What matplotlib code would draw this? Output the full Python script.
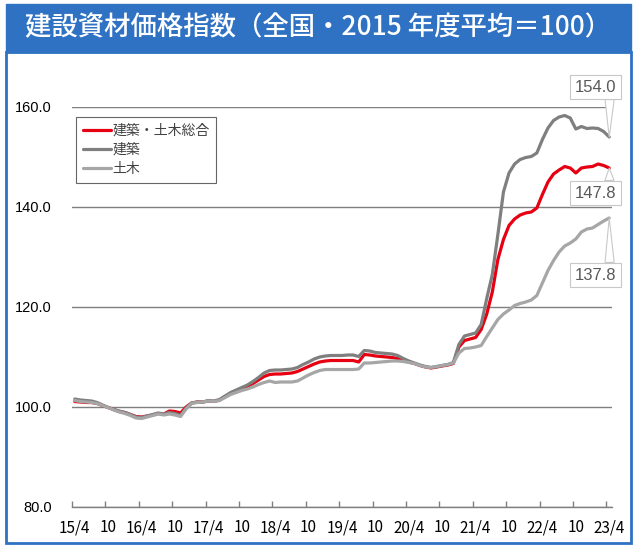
import matplotlib
matplotlib.use("Agg")
import matplotlib.pyplot as plt
from matplotlib.patches import Rectangle
from matplotlib.ticker import FixedLocator

plt.rcParams['font.family'] = ['Noto Sans CJK JP', 'DejaVu Sans']

title = "建設資材価格指数（全国・2015 年度平均＝100）"
series_names = ["建築・土木総合", "建築", "土木"]

sogo = [101.1, 101.0, 100.9, 100.9, 100.7, 100.3, 99.9, 99.5, 99.1, 98.9, 98.5, 98.1,
        98.0, 98.2, 98.4, 98.7, 98.6, 99.2, 99.1, 98.8, 100.0, 100.8, 101.0, 101.0,
        101.2, 101.1, 101.4, 102.1, 102.7, 103.2, 103.7, 104.1, 104.7, 105.4, 106.1, 106.5,
        106.6, 106.6, 106.7, 106.8, 107.1, 107.6, 108.1, 108.6, 109.0, 109.2, 109.3, 109.3,
        109.3, 109.3, 109.3, 109.0, 110.5, 110.4, 110.2, 110.1, 110.0, 109.9, 109.7, 109.4,
        109.0, 108.7, 108.3, 108.0, 107.8, 108.0, 108.2, 108.4, 108.7, 112.0, 113.3, 113.6,
        113.9, 115.5, 118.6, 123.0, 129.5, 133.5, 136.3, 137.6, 138.4, 138.8, 139.0, 139.8,
        142.5, 145.0, 146.6, 147.4, 148.1, 147.8, 146.8, 147.8, 148.0, 148.1, 148.6, 148.3,
        147.8]

kenchiku = [101.6, 101.4, 101.3, 101.2, 100.9, 100.4, 99.9, 99.5, 99.2, 98.9, 98.5, 98.0,
            97.9, 98.2, 98.5, 98.8, 98.6, 98.9, 98.7, 98.3, 99.8, 100.8, 101.0, 101.0,
            101.3, 101.2, 101.5, 102.2, 102.9, 103.4, 103.9, 104.4, 105.1, 105.9, 106.8, 107.3,
            107.4, 107.4, 107.5, 107.6, 107.9, 108.5, 109.0, 109.6, 110.0, 110.2, 110.3, 110.3,
            110.3, 110.4, 110.4, 110.1, 111.3, 111.2, 110.9, 110.8, 110.7, 110.6, 110.3, 109.7,
            109.2, 108.8, 108.4, 108.1, 107.9, 108.1, 108.3, 108.5, 108.9, 112.5, 114.2, 114.5,
            114.8, 116.5, 121.7, 126.5, 134.5, 143.0, 146.8, 148.6, 149.5, 149.9, 150.1, 150.8,
            153.5, 155.8, 157.3, 158.0, 158.3, 157.8, 155.6, 156.1, 155.7, 155.8, 155.7, 155.1,
            154.0]

doboku = [101.3, 101.1, 101.0, 100.9, 100.7, 100.3, 99.9, 99.4, 99.0, 98.7, 98.3, 97.8,
          97.7, 98.0, 98.3, 98.6, 98.4, 98.6, 98.4, 98.1, 99.6, 100.7, 100.9, 101.0,
          101.2, 101.1, 101.3, 101.9, 102.5, 102.9, 103.3, 103.6, 104.0, 104.5, 104.9, 105.2,
          104.9, 105.0, 105.0, 105.0, 105.2, 105.8, 106.4, 106.9, 107.3, 107.5, 107.5, 107.5,
          107.5, 107.5, 107.5, 107.6, 108.8, 108.8, 108.9, 109.0, 109.1, 109.2, 109.2, 109.1,
          108.9, 108.7, 108.3, 108.0, 107.9, 108.1, 108.3, 108.5, 108.8, 110.8, 111.7, 111.8,
          112.0, 112.3, 114.1, 115.8, 117.5, 118.6, 119.4, 120.3, 120.7, 121.0, 121.4, 122.3,
          124.8, 127.3, 129.3, 131.0, 132.2, 132.8, 133.6, 135.0, 135.6, 135.8, 136.5, 137.2,
          137.8]

tick_labels = ["15/4", "10", "16/4", "10", "17/4", "10", "18/4", "10", "19/4", "10",
               "20/4", "10", "21/4", "10", "22/4", "10", "23/4"]
yticks = [80, 100, 120, 140, 160]

W, H = 640, 556
fig = plt.figure(figsize=(W / 100, H / 100), dpi=100)

blue = '#2f72c4'
fig.patches.append(Rectangle((6 / W, 1 - 543 / H), 625 / W, (543 - 52) / H,
                             transform=fig.transFigure, facecolor='white',
                             edgecolor=blue, linewidth=2, zorder=-2))
fig.patches.append(Rectangle((6 / W, 1 - 52 / H), 625 / W, 48 / H,
                             transform=fig.transFigure, facecolor=blue,
                             edgecolor=blue, linewidth=1, zorder=-1))
fig.text(318 / W, 1 - 28 / H, title, color='white', fontsize=19,
         ha='center', va='center', fontweight='medium', zorder=5)

ax = fig.add_axes([72 / W, 1 - 507 / H, 540 / W, 400 / H])
ax.set_facecolor('none')
ax.set_zorder(2)

x = list(range(len(sogo)))
colors = ['#e60012', '#7f7f7f', '#a6a6a6']
for vals, name, c in zip([sogo, kenchiku, doboku], series_names, colors):
    ax.plot(x, vals, color=c, linewidth=2.3, label=name, solid_joinstyle='round',
            solid_capstyle='round', zorder=3)

ax.set_xlim(-0.5, len(sogo) - 0.5)
ax.set_ylim(yticks[0], yticks[-1])

major = list(range(0, len(sogo), 6))
ax.xaxis.set_major_locator(FixedLocator(major))
ax.set_xticklabels(tick_labels)
ax.xaxis.set_minor_locator(FixedLocator([m - 0.5 for m in major]))
ax.tick_params(axis='x', which='major', length=0, pad=9, labelsize=11, labelcolor='black')
ax.tick_params(axis='x', which='minor', direction='in', length=4, width=1, color='#7f7f7f')

ax.set_yticks(yticks)
ax.set_yticklabels([f"{v:.1f}" for v in yticks], fontfamily='Liberation Sans', fontsize=10.5)
ax.tick_params(axis='y', length=0, pad=14.5)
ax.yaxis.grid(True, color='#7f7f7f', linewidth=1)
ax.set_axisbelow(True)

for s in ['left', 'right', 'top']:
    ax.spines[s].set_visible(False)
ax.spines['bottom'].set_color('#7f7f7f')
ax.spines['bottom'].set_linewidth(1)

leg = ax.legend(loc='upper left', bbox_to_anchor=(4 / 540, (507 - 117) / 400),
                fontsize=10, frameon=True, fancybox=False, edgecolor='#404040',
                handlelength=2.0, handletextpad=0.1, labelspacing=0.35,
                borderpad=0.5, borderaxespad=0)
leg.get_frame().set_linewidth(0.8)
for t in leg.get_texts():
    t.set_color('#404040')
leg.set_zorder(5)

last = len(sogo) - 1
label_specs = [(sogo, (-14, -25)), (kenchiku, (-14, 50)), (doboku, (-14, -57))]
for vals, off in label_specs:
    ax.annotate(f"{vals[last]:.1f}", xy=(last, vals[last]), xytext=off,
                textcoords='offset pixels', ha='center', va='center',
                fontsize=12, fontfamily='Liberation Sans', color='#595959',
                bbox=dict(boxstyle='square,pad=0.28', fc='white', ec='#c8c8c8', lw=0.8),
                arrowprops=dict(arrowstyle='wedge,tail_width=0.55', fc='white',
                                ec='#c8c8c8', lw=0.8, shrinkA=0, shrinkB=0,
                                relpos=(0.85, 0.5)),
                annotation_clip=False, zorder=6)

fig.savefig("out.png", dpi=100)
